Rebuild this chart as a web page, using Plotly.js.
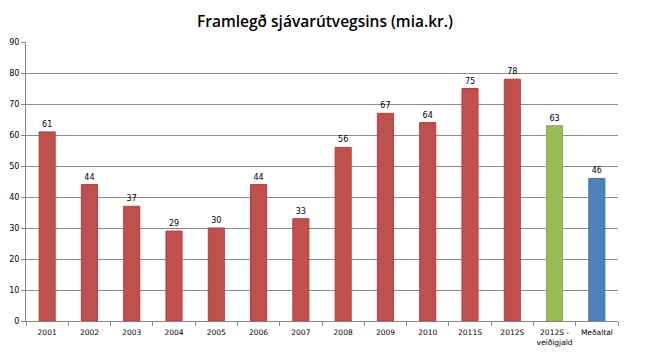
<!DOCTYPE html>
<html><head><meta charset="utf-8">
<script src="https://cdn.plot.ly/plotly-3.0.1.min.js"></script>
<style>body{margin:0;background:#fff}#c{width:650px;height:358px}</style>
</head><body><div id="c"></div>
<script>
const categories = ["2001","2002","2003","2004","2005","2006","2007","2008","2009","2010","2011S","2012S","2012S -<br>veiðigjald","Meðaltal"];
const values = [61,44,37,29,30,44,33,56,67,64,75,78,63,46];
const barColors = ["#C0504D","#C0504D","#C0504D","#C0504D","#C0504D","#C0504D","#C0504D","#C0504D","#C0504D","#C0504D","#C0504D","#C0504D","#9BBB59","#4F81BD"];
const lineColors = ["#B83B38","#B83B38","#B83B38","#B83B38","#B83B38","#B83B38","#B83B38","#B83B38","#B83B38","#B83B38","#B83B38","#B83B38","#8BAA4A","#3F71AD"];
const yTicks = [0,10,20,30,40,50,60,70,80,90];

Plotly.newPlot('c', [{
  type: 'bar', x: categories, y: values,
  marker: {color: barColors, line: {color: lineColors, width: 1}},
  text: values.map(String), textposition: 'outside', cliponaxis: false,
  textfont: {family: 'DejaVu Sans', size: 8, color: '#000'},
  hoverinfo: 'none'
}], {
  width: 650, height: 358,
  margin: {l: 26, r: 32, t: 42, b: 37},
  paper_bgcolor: '#fff', plot_bgcolor: '#fff',
  bargap: 0.62,
  showlegend: false,
  title: {text: 'Framlegð sjávarútvegsins (mia.kr.)', x: 0.5, xanchor: 'center', y: 0.94, yanchor: 'middle',
    font: {family: 'Open Sans', size: 15.5, color: '#000', weight: 600}},
  xaxis: {type: 'category', showline: true, linecolor: '#888', linewidth: 1,
    ticks: 'outside', tickson: 'boundaries', ticklen: 4, tickcolor: '#888', tickangle: 0,
    ticklabelstandoff: 4,
    tickfont: {family: 'DejaVu Sans', size: 7.5, color: '#000'}, showgrid: false},
  yaxis: {range: [0, 90], tickvals: yTicks, showline: true, linecolor: '#888', linewidth: 1,
    ticks: 'outside', ticklen: 4, tickcolor: '#888',
    gridcolor: '#8c8c8c', gridwidth: 1, zeroline: false,
    tickfont: {family: 'DejaVu Sans', size: 8, color: '#000'}}
}, {staticPlot: true});
</script></body></html>
